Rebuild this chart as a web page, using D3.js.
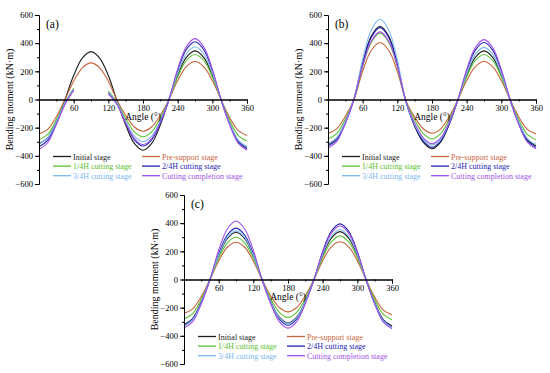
<!DOCTYPE html>
<html>
<head>
<meta charset="utf-8">
<script src="https://cdnjs.cloudflare.com/ajax/libs/d3/7.8.5/d3.min.js"></script>
<style>
  body { margin: 0; background: #fff; }
  svg text { font-family: "Liberation Serif", "Times New Roman", serif; }
</style>
</head>
<body>
<div id="chart"></div>
<script>
// angle positions (degrees)
const angles = [0, 15, 30, 45, 60, 75, 90, 105, 120, 135, 150, 165, 180,
                195, 210, 225, 240, 255, 270, 285, 300, 315, 330, 345, 360];

const stageNames = ["Initial stage", "Pre-support stage", "1/4H cutting stage",
                    "2/4H cutting stage", "3/4H cutting stage", "Cutting completion stage"];
const stageColors = ["#1c1c1c", "#c8643c", "#5cc030", "#2424b0", "#7cb8f0", "#a050e8"];

const xTicks = [60, 120, 180, 240, 300, 360];
const yTicks = [-600, -400, -200, 0, 200, 400, 600];

// panel (a) - cutting stages have no values between 60 and 120 degrees
const aInitial   = [-315, -272, -158, 0, 170, 294, 340, 294, 170, -10, -180, -312, -360, -312, -180, 0, 172, 299, 345, 299, 172, 0, -170, -294, -340];
const aPre       = [-245, -212, -122, 0, 130, 225, 260, 225, 130, -5, -112, -195, -225, -195, -112, 0, 135, 234, 270, 234, 135, 0, -128, -221, -255];
const aQuarter   = [-285, -247, -145, -20, 80, null, null, null, 60, -20, -135, -230, -265, -230, -132, 0, 160, 277, 320, 277, 160, 0, -148, -256, -295];
const aHalf      = [-335, -290, -170, -30, 70, null, null, null, 45, -30, -170, -286, -330, -286, -165, 0, 205, 355, 410, 355, 205, 0, -175, -303, -350];
const aThreeQ    = [-315, -273, -160, -25, 75, null, null, null, 50, -25, -155, -260, -300, -260, -150, 0, 188, 325, 375, 325, 188, 0, -168, -290, -335];
const aComplete  = [-355, -307, -178, -35, 65, null, null, null, 40, -35, -165, -277, -320, -277, -160, 0, 216, 374, 432, 374, 216, 0, -180, -312, -360];

// panel (b)
const bInitial   = [-320, -277, -160, 5, 260, 450, 520, 450, 250, -15, -190, -305, -350, -303, -175, 0, 172, 299, 345, 299, 172, 0, -165, -286, -330];
const bPre       = [-240, -208, -120, 0, 202, 350, 405, 350, 200, -10, -125, -208, -240, -208, -120, 0, 135, 234, 270, 234, 135, 0, -122, -212, -245];
const bQuarter   = [-280, -242, -140, 0, 235, 407, 470, 407, 232, -12, -145, -243, -280, -243, -140, 0, 160, 277, 320, 277, 160, 0, -142, -247, -285];
const bHalf      = [-330, -286, -165, 5, 255, 442, 510, 442, 250, -18, -185, -295, -340, -295, -170, 0, 202, 351, 405, 351, 202, 0, -170, -294, -340];
const bThreeQ    = [-315, -273, -158, 8, 285, 494, 570, 494, 282, -20, -178, -282, -325, -282, -163, 0, 185, 320, 370, 320, 185, 0, -160, -277, -320];
const bComplete  = [-345, -299, -172, 0, 240, 416, 480, 416, 238, -15, -170, -273, -315, -273, -158, 0, 212, 368, 425, 368, 212, 0, -175, -303, -350];

// panel (c)
const cInitial   = [-320, -277, -160, 0, 168, 290, 335, 290, 168, 0, -155, -268, -310, -268, -155, 0, 170, 294, 340, 294, 170, 0, -165, -286, -330];
const cPre       = [-240, -208, -120, 0, 132, 229, 265, 229, 132, 0, -115, -199, -230, -199, -115, 0, 134, 232, 268, 232, 134, 0, -125, -217, -250];
const cQuarter   = [-280, -242, -140, 0, 150, 260, 300, 260, 150, 0, -135, -234, -270, -234, -135, 0, 155, 268, 310, 268, 155, 0, -142, -247, -285];
const cHalf      = [-325, -281, -162, 0, 182, 316, 365, 316, 182, 0, -162, -281, -325, -281, -162, 0, 198, 342, 395, 342, 198, 0, -168, -290, -335];
const cThreeQ    = [-330, -286, -165, 0, 172, 299, 345, 299, 172, 0, -158, -273, -315, -273, -158, 0, 178, 307, 355, 307, 178, 0, -170, -294, -340];
const cComplete  = [-345, -299, -172, 0, 208, 359, 415, 359, 208, 0, -172, -299, -345, -299, -172, 0, 190, 329, 380, 329, 190, 0, -175, -303, -350];

const panels = [
    {label: "(a)", left: 39, top: 15, series: [aInitial, aPre, aQuarter, aHalf, aThreeQ, aComplete]},
    {label: "(b)", left: 328, top: 15, series: [bInitial, bPre, bQuarter, bHalf, bThreeQ, bComplete]},
    {label: "(c)", left: 184, top: 195, series: [cInitial, cPre, cQuarter, cHalf, cThreeQ, cComplete]}
];

const width = 208, height = 169;

const svg = d3.select("#chart").append("svg")
    .attr("width", 550)
    .attr("height", 373);

const x = d3.scaleLinear().domain([0, 360]).range([0, width]);
const y = d3.scaleLinear().domain([-600, 600]).range([height, 0]);

const line = d3.line()
    .defined(function(d) { return d.v !== null; })
    .x(function(d) { return x(d.a); })
    .y(function(d) { return y(d.v); })
    .curve(d3.curveCatmullRom.alpha(0.5));

panels.forEach(function(p) {
    const g = svg.append("g")
        .attr("transform", "translate(" + p.left + "," + p.top + ")");

    // curves
    p.series.forEach(function(vals, i) {
        const pts = angles.map(function(a, k) { return {a: a, v: vals[k]}; });
        g.append("path")
            .attr("fill", "none")
            .attr("stroke", stageColors[i])
            .attr("stroke-width", 1.1)
            .attr("d", line(pts));
    });

    // y axis, minor ticks first
    g.append("g")
        .call(d3.axisLeft(y).ticks(12).tickSize(2).tickFormat(""))
        .call(function(s) { s.select(".domain").remove(); });
    const ya = g.append("g")
        .call(d3.axisLeft(y).tickValues(yTicks).tickSize(4).tickPadding(2)
            .tickFormat(function(d) { return d < 0 ? "\u2212" + Math.abs(d) : d; }));
    ya.selectAll("text").style("font-size", "8.5px").attr("fill", "#000");

    // x axis sits on the zero line
    const xg = g.append("g").attr("transform", "translate(0," + y(0) + ")");
    xg.call(d3.axisBottom(x).tickValues(d3.range(0, 361, 30)).tickSize(2).tickFormat(""));
    const xa = g.append("g").attr("transform", "translate(0," + y(0) + ")")
        .call(d3.axisBottom(x).tickValues(xTicks).tickSize(4).tickPadding(1));
    xa.selectAll("text").style("font-size", "8.5px").attr("fill", "#000");

    // x axis label
    g.append("text")
        .attr("x", width / 2)
        .attr("y", y(0) + 20)
        .style("text-anchor", "middle")
        .style("font-size", "9.5px")
        .text("Angle (\u00b0)");

    // y axis label
    g.append("text")
        .attr("transform", "rotate(-90)")
        .attr("x", -height / 2)
        .attr("y", -26)
        .style("text-anchor", "middle")
        .style("font-size", "10px")
        .text("Bending moment (kN\u00b7m)");

    // panel label
    g.append("text")
        .attr("x", 7)
        .attr("y", 13)
        .style("font-size", "11.5px")
        .text(p.label);

    // legend
    stageNames.forEach(function(name, i) {
        const col = i % 2, row = Math.floor(i / 2);
        const lx = col === 0 ? 14 : 103;
        const ly = y(0) + 57 + row * 9.6;
        g.append("line")
            .attr("x1", lx).attr("x2", lx + 18)
            .attr("y1", ly).attr("y2", ly)
            .attr("stroke", stageColors[i])
            .attr("stroke-width", 1.3);
        g.append("text")
            .attr("x", lx + 20)
            .attr("y", ly + 3)
            .style("font-size", "8px")
            .attr("fill", stageColors[i])
            .text(name);
    });
});
</script>
</body>
</html>
